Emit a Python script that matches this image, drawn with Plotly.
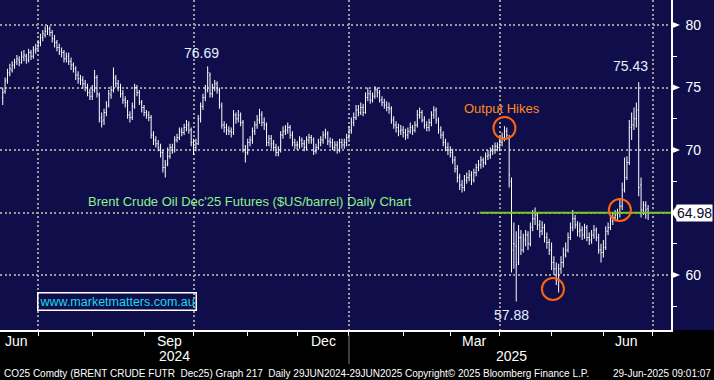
import pandas as pd
import plotly.graph_objects as go

# ---------------- data (one row = one trading week) -------------
opens = [
    74.2, 74.7, 75.6, 76.1, 76.4,
    76.8, 77.1, 77.2, 77.0, 77.4,
    77.5, 77.2, 77.8, 77.5, 78.0,
    78.1, 78.6, 79.0, 79.2, 79.5,
    79.7, 79.4, 78.9, 78.6, 78.2,
    77.9, 77.8, 77.3, 77.5, 77.1,
    76.8, 76.5, 76.0, 75.7, 75.6,
    75.3, 75.0, 74.6, 74.3, 74.8,
    75.8, 74.4, 72.6, 72.4, 73.0,
    73.6, 74.4, 74.8, 75.7, 75.3,
    75.0, 74.5, 74.0, 73.8, 72.8,
    72.6, 73.5, 75.0, 74.6, 73.8,
    73.4, 73.0, 72.8, 72.6, 71.2,
    70.8, 70.5, 70.2, 69.8, 68.6,
    68.9, 69.5, 70.2, 70.0, 70.8,
    71.0, 71.5, 71.4, 71.8, 72.0,
    71.6, 70.6, 70.2, 70.5, 72.5,
    73.5, 74.2, 74.8, 76.0, 74.5,
    75.0, 75.3, 74.8, 73.5, 72.0,
    71.8, 71.6, 71.5, 71.4, 72.8,
    72.5, 72.8, 72.2, 70.0, 69.8,
    70.6, 70.8, 71.5, 72.0, 72.4,
    72.8, 72.2, 72.0, 70.6, 70.9,
    70.5, 70.2, 69.8, 70.0, 71.2,
    71.5, 71.6, 71.8, 71.2, 70.6,
    70.4, 70.4, 70.8, 70.5, 70.2,
    70.8, 71.0, 70.8, 69.9, 70.2,
    70.6, 70.8, 71.2, 71.3, 70.7,
    70.6, 70.2, 70.4, 70.0, 70.6,
    70.4, 70.6, 71.0, 71.6, 72.2,
    72.6, 73.2, 73.0, 73.4, 73.0,
    74.2, 74.5, 74.0, 74.3, 74.8,
    74.6, 74.0, 73.8, 73.6, 73.4,
    73.3, 72.4, 72.0, 71.8, 71.5,
    71.6, 71.4, 71.2, 71.5, 71.8,
    71.6, 72.0, 72.8, 73.0, 72.4,
    72.0, 71.8, 72.2, 72.8, 73.2,
    72.4, 71.6, 71.2, 70.6, 70.2,
    70.0, 69.8, 69.2, 68.5, 67.8,
    67.2, 67.0, 67.6, 67.8, 68.0,
    67.6, 68.2, 68.6, 68.8, 69.2,
    69.0, 69.5, 69.6, 69.9, 70.0,
    70.3, 70.2, 70.6, 71.0, 71.5,
    71.0, 67.5, 62.5, 62.3, 61.0,
    63.0, 62.0, 62.8, 63.2, 62.5,
    63.8, 64.5, 64.8, 64.0, 63.5,
    63.8, 63.0, 62.6, 62.0, 61.0,
    60.5, 59.6, 60.5, 61.0, 61.6,
    62.0, 63.0, 63.8, 64.5, 64.0,
    63.5, 63.6, 63.2, 63.8, 63.0,
    62.8, 63.2, 63.6, 63.0, 62.0,
    61.8, 62.2, 63.5, 63.8, 64.3,
    64.6, 64.8, 65.0, 65.5, 66.8,
    67.8, 69.0, 71.8, 72.0, 72.5,
    73.2, 67.2, 65.2, 65.6, 65.3,
]
highs = [
    75.0, 75.8, 76.5, 76.9, 77.1,
    77.3, 77.6, 77.5, 77.9, 78.0,
    77.7, 78.1, 78.0, 78.3, 78.5,
    78.8, 79.3, 79.6, 79.9, 80.0,
    79.9, 79.6, 79.2, 78.8, 78.5,
    78.2, 78.0, 77.8, 77.8, 77.4,
    77.0, 76.7, 76.3, 76.0, 75.9,
    75.6, 75.3, 74.9, 75.2, 76.4,
    76.0, 74.6, 73.0, 73.3, 73.9,
    74.8, 75.1, 76.6, 76.0, 75.6,
    75.3, 74.8, 74.3, 74.0, 73.1,
    73.8, 75.3, 75.2, 74.8, 74.0,
    73.6, 73.2, 73.1, 72.8, 71.5,
    71.1, 70.8, 70.5, 70.0, 69.2,
    70.2, 70.5, 70.5, 71.1, 71.3,
    71.8, 71.8, 72.1, 72.4, 72.3,
    71.8, 70.9, 70.9, 72.8, 73.8,
    74.5, 75.2, 76.69, 76.2, 75.3,
    75.6, 75.5, 75.0, 73.8, 72.3,
    72.1, 71.9, 71.8, 73.2, 73.0,
    73.2, 73.0, 72.4, 70.4, 70.9,
    71.1, 71.8, 72.3, 72.8, 73.3,
    73.1, 72.6, 72.2, 71.2, 71.2,
    70.8, 70.5, 70.3, 71.5, 71.9,
    72.0, 72.2, 72.0, 71.5, 70.9,
    70.7, 71.1, 71.0, 70.8, 71.1,
    71.3, 71.2, 71.0, 70.5, 70.9,
    71.1, 71.5, 71.7, 71.5, 71.0,
    70.9, 70.7, 70.7, 70.9, 70.9,
    70.9, 71.3, 71.9, 72.6, 73.0,
    73.6, 73.6, 73.8, 73.7, 74.6,
    75.0, 74.8, 74.6, 75.1, 75.0,
    74.8, 74.3, 74.1, 73.9, 73.8,
    73.5, 72.7, 72.3, 72.1, 72.0,
    71.9, 71.7, 71.8, 72.2, 72.0,
    72.3, 73.2, 73.4, 73.2, 72.7,
    72.3, 72.5, 73.1, 73.5, 73.4,
    72.6, 71.9, 71.5, 70.9, 70.6,
    70.3, 70.1, 69.5, 68.8, 68.1,
    67.6, 68.0, 68.2, 68.4, 68.3,
    68.5, 68.9, 69.2, 69.5, 69.4,
    69.8, 70.0, 70.2, 70.4, 70.6,
    70.6, 70.9, 71.4, 71.9, 71.8,
    71.2, 67.8, 64.2, 63.5, 64.0,
    63.6, 63.3, 63.6, 63.5, 64.2,
    65.2, 65.4, 65.0, 64.4, 64.3,
    64.1, 63.4, 62.9, 62.6, 61.5,
    61.0, 60.9, 61.5, 62.2, 62.6,
    63.4, 64.2, 65.2, 64.8, 64.3,
    64.2, 63.9, 64.1, 64.0, 63.4,
    63.6, 64.0, 63.8, 63.3, 62.5,
    62.8, 63.9, 64.2, 64.8, 65.0,
    65.2, 65.3, 66.0, 67.4, 69.4,
    69.5, 72.4, 73.0, 73.4, 73.8,
    75.43, 67.8, 65.9, 65.9, 65.6,
]
lows = [
    73.6, 74.5, 75.3, 75.9, 76.2,
    76.5, 76.8, 76.7, 76.9, 77.1,
    76.9, 77.0, 77.2, 77.3, 77.7,
    77.9, 78.3, 78.7, 79.0, 79.2,
    79.1, 78.6, 78.2, 77.9, 77.6,
    77.4, 77.0, 77.0, 76.8, 76.4,
    76.2, 75.6, 75.3, 75.2, 74.9,
    74.7, 74.3, 74.0, 74.0, 74.6,
    74.2, 72.2, 71.8, 72.0, 72.7,
    73.4, 74.1, 74.6, 75.0, 74.7,
    74.2, 73.7, 73.4, 72.5, 72.2,
    72.4, 73.3, 74.3, 73.6, 73.0,
    72.7, 72.5, 72.3, 70.9, 70.4,
    70.2, 69.9, 69.4, 68.2, 67.8,
    68.7, 69.3, 69.7, 69.8, 70.6,
    70.8, 71.1, 71.2, 71.5, 71.3,
    70.3, 69.6, 69.9, 70.4, 72.2,
    73.2, 73.9, 74.6, 74.2, 74.2,
    74.7, 74.5, 73.3, 71.7, 71.4,
    71.2, 71.2, 71.0, 71.2, 72.1,
    72.2, 71.9, 69.8, 69.0, 69.6,
    70.3, 70.5, 71.2, 71.7, 72.1,
    71.9, 71.6, 70.3, 70.3, 70.1,
    69.9, 69.5, 69.5, 69.8, 70.9,
    71.2, 71.3, 70.9, 70.3, 70.1,
    70.0, 70.1, 70.2, 69.9, 70.0,
    70.5, 70.5, 69.6, 69.7, 70.0,
    70.3, 70.5, 70.9, 70.4, 70.2,
    70.0, 69.9, 69.7, 69.8, 70.1,
    70.1, 70.3, 70.8, 71.3, 71.9,
    72.4, 72.7, 72.8, 72.7, 72.9,
    73.9, 73.7, 73.8, 74.1, 74.2,
    73.8, 73.5, 73.3, 73.1, 72.9,
    72.1, 71.7, 71.4, 71.1, 71.2,
    71.0, 70.8, 70.9, 71.3, 71.2,
    71.4, 71.8, 72.5, 72.2, 71.7,
    71.5, 71.5, 71.9, 72.5, 72.1,
    71.3, 70.9, 70.3, 69.9, 69.6,
    69.4, 68.9, 68.2, 67.4, 66.8,
    66.6, 66.7, 67.3, 67.5, 67.2,
    67.4, 67.9, 68.3, 68.5, 68.6,
    68.8, 69.2, 69.3, 69.6, 69.7,
    69.9, 69.9, 70.3, 70.7, 70.9,
    67.0, 60.2, 60.5, 57.88, 60.8,
    61.6, 61.8, 62.3, 62.0, 62.3,
    63.5, 64.0, 63.6, 63.0, 63.2,
    62.6, 62.1, 61.6, 60.4, 60.0,
    59.2, 58.6, 60.1, 60.6, 61.4,
    61.8, 62.8, 63.5, 63.7, 63.1,
    63.0, 62.8, 62.9, 62.7, 62.4,
    62.5, 62.9, 62.7, 61.7, 61.0,
    61.4, 62.0, 63.2, 63.6, 64.0,
    64.3, 64.4, 64.6, 65.2, 66.6,
    67.6, 68.8, 70.8, 71.6, 71.8,
    66.3, 64.6, 64.8, 64.5, 64.4,
]
closes = [
    74.6, 75.5, 76.2, 76.5, 76.8,
    77.0, 77.3, 77.0, 77.5, 77.6,
    77.2, 77.8, 77.5, 78.0, 78.1,
    78.5, 79.0, 79.3, 79.5, 79.7,
    79.4, 78.9, 78.6, 78.2, 77.9,
    77.8, 77.3, 77.5, 77.1, 76.8,
    76.5, 76.0, 75.7, 75.6, 75.3,
    75.0, 74.6, 74.3, 74.8, 75.8,
    74.5, 72.5, 72.3, 73.0, 73.5,
    74.5, 74.8, 75.8, 75.3, 75.0,
    74.5, 74.0, 73.8, 72.8, 72.6,
    73.5, 75.0, 74.6, 73.8, 73.4,
    73.0, 72.8, 72.6, 71.2, 70.8,
    70.5, 70.2, 69.8, 68.6, 68.8,
    69.5, 70.2, 70.0, 70.8, 71.0,
    71.5, 71.4, 71.8, 72.0, 71.6,
    70.6, 70.2, 70.5, 72.5, 73.5,
    74.2, 74.8, 76.2, 74.5, 75.0,
    75.3, 74.8, 73.6, 72.0, 71.8,
    71.6, 71.5, 71.4, 72.8, 72.5,
    72.8, 72.2, 70.0, 69.8, 70.6,
    70.8, 71.5, 72.0, 72.4, 72.8,
    72.2, 72.0, 70.6, 70.9, 70.5,
    70.2, 69.8, 70.0, 71.2, 71.5,
    71.6, 71.8, 71.2, 70.6, 70.4,
    70.4, 70.8, 70.5, 70.2, 70.8,
    71.0, 70.8, 69.9, 70.2, 70.6,
    70.8, 71.2, 71.3, 70.7, 70.6,
    70.2, 70.4, 70.0, 70.6, 70.4,
    70.6, 71.0, 71.6, 72.2, 72.6,
    73.2, 73.0, 73.4, 73.0, 74.2,
    74.5, 74.0, 74.3, 74.8, 74.6,
    74.0, 73.8, 73.6, 73.4, 73.3,
    72.4, 72.0, 71.8, 71.5, 71.6,
    71.4, 71.2, 71.5, 71.8, 71.6,
    72.0, 72.8, 73.0, 72.4, 72.0,
    71.8, 72.2, 72.8, 73.2, 72.4,
    71.6, 71.2, 70.6, 70.2, 70.0,
    69.8, 69.2, 68.5, 67.8, 67.2,
    67.0, 67.6, 67.8, 68.0, 67.6,
    68.2, 68.6, 68.8, 69.2, 69.0,
    69.5, 69.6, 69.9, 70.0, 70.3,
    70.2, 70.6, 71.0, 71.5, 71.2,
    68.0, 62.0, 62.5, 60.8, 63.0,
    62.0, 62.8, 63.2, 62.5, 63.8,
    64.5, 64.8, 64.0, 63.5, 63.8,
    63.0, 62.6, 62.0, 61.0, 60.5,
    59.6, 60.5, 61.0, 61.6, 62.0,
    63.0, 63.8, 64.5, 64.0, 63.5,
    63.6, 63.2, 63.8, 63.0, 62.8,
    63.2, 63.6, 63.0, 62.0, 61.8,
    62.2, 63.5, 63.8, 64.3, 64.6,
    64.8, 65.0, 65.5, 66.8, 67.8,
    69.0, 71.8, 72.0, 72.5, 73.2,
    67.0, 65.2, 65.6, 65.2, 64.98,
]
dates = pd.bdate_range("2024-06-10", periods=len(closes))

y_ticks = [60, 65, 70, 75, 80]
y_tick_labels = ["60", "", "70", "75", "80"]   # 65 is hidden under the last-price tag
y_minor = [57.5, 62.5, 67.5, 72.5, 77.5]
quarter_starts = ["2024-07-01", "2024-10-01", "2025-01-01", "2025-04-01", "2025-07-01"]
month_starts = ["2024-07-01", "2024-08-01", "2024-09-02", "2024-10-01", "2024-11-01",
                "2024-12-02", "2025-01-01", "2025-02-03", "2025-03-03", "2025-04-01",
                "2025-05-01", "2025-06-02", "2025-07-01"]
month_labels = ["Jun", "Sep", "Dec", "Mar", "Jun"]
month_label_dates = ["2024-06-18", "2024-09-17", "2024-12-17", "2025-03-17", "2025-06-16"]
year_labels = ["2024", "2025"]
year_label_dates = ["2024-09-19", "2025-04-08"]
marked_highs = [76.69, 75.43]
marked_low = 57.88
last_price = 64.98
level_start = "2025-03-19 12:00"
x_range = ["2024-06-06 20:00", "2025-07-10 17:00"]
circles = [("2025-04-03", 71.76), ("2025-05-01 14:00", 58.88), ("2025-06-11", 65.2)]

NAVY = "#0f0e4b"
W, H = 714, 380
ML, MR, MT, MB = 0, 43, 0, 50
PW = W - ML - MR
PH = H - MT - MB
FONT = "Liberation Sans, Arial, sans-serif"


def px(xp):
    return (xp - ML) / PW


def py(yp):
    return (H - MB - yp) / PH


fig = go.Figure()
fig.add_trace(go.Ohlc(
    x=dates, open=opens, high=highs, low=lows, close=closes,
    increasing=dict(line=dict(color="white", width=1)),
    decreasing=dict(line=dict(color="white", width=1)),
    tickwidth=0.35, hoverinfo="skip", showlegend=False,
))

shapes = []
# navy background behind the right axis
shapes.append(dict(type="rect", xref="paper", yref="paper", x0=1, x1=W / PW, y0=0, y1=1,
                   fillcolor=NAVY, line=dict(width=0), layer="below"))
# triangles at labelled y ticks
dy = 3.6 * (82 - 55.6) / PH
for v, lab in zip(y_ticks, y_tick_labels):
    if lab:
        shapes.append(dict(type="path", xref="paper", yref="y",
                           path=f"M {px(671.5)},{v + dy} L {px(671.5)},{v - dy} L {px(680)},{v} Z",
                           fillcolor="white", line=dict(width=0)))
# horizontal level line
shapes.append(dict(type="line", xref="x", yref="y", x0=level_start, x1=x_range[1],
                   y0=last_price, y1=last_price, line=dict(color="#7cc51e", width=2)))
# orange circles
for cx, cy in circles:
    shapes.append(dict(type="circle", xref="x", yref="y", xsizemode="pixel", ysizemode="pixel",
                       xanchor=cx, yanchor=cy, x0=-11, x1=11, y0=-11, y1=11,
                       line=dict(color="#ff6410", width=2)))
# last price tag arrow
dy2 = 7.5 * (82 - 55.6) / PH
shapes.append(dict(type="path", xref="paper", yref="y",
                   path=f"M {px(671.5)},{last_price} L {px(677)},{last_price + dy2} L {px(677)},{last_price - dy2} Z",
                   fillcolor="white", line=dict(width=0)))
# year separator
shapes.append(dict(type="line", xref="x", yref="paper", x0=quarter_starts[2], x1=quarter_starts[2],
                   y0=py(335), y1=py(364), line=dict(color="#808080", width=1)))

ann = []
for lab, d in zip(month_labels, month_label_dates):
    ann.append(dict(x=d, y=py(341), xref="x", yref="paper", text=lab, showarrow=False,
                    font=dict(color="white", size=14, family=FONT), xanchor="center", yanchor="middle"))
for lab, d in zip(year_labels, year_label_dates):
    ann.append(dict(x=d, y=py(356), xref="x", yref="paper", text=lab, showarrow=False,
                    font=dict(color="white", size=14, family=FONT), xanchor="center", yanchor="middle"))

for val, xs, ys in zip(marked_highs, [-6, -8], [3, 6]):
    i = highs.index(val)
    ann.append(dict(x=dates[i], y=val, xref="x", yref="y", text=f"{val:.2f}",
                    showarrow=False, xshift=xs, yshift=ys, yanchor="bottom",
                    font=dict(color="#e6eeff", size=14, family=FONT)))
lo = lows.index(marked_low)
ann.append(dict(x=dates[lo], y=marked_low, xref="x", yref="y", text=f"{marked_low:.2f}",
                showarrow=False, xshift=-5, yshift=-3, yanchor="top",
                font=dict(color="#e6eeff", size=14, family=FONT)))
ann.append(dict(x=px(502), y=py(108.5), xref="paper", yref="paper", text="Output Hikes",
                showarrow=False, font=dict(color="#ff8a1e", size=13, family=FONT),
                xanchor="center", yanchor="middle"))
ann.append(dict(x=px(86), y=py(201.5), xref="paper", yref="paper",
                text="Brent Crude Oil Dec'25 Futures ($US/barrel) Daily Chart",
                showarrow=False, font=dict(color="#8ef08a", size=13, family=FONT),
                xanchor="left", yanchor="middle"))
ann.append(dict(x=px(117), y=py(301), xref="paper", yref="paper", text="www.marketmatters.com.au",
                showarrow=False, font=dict(color="#19d9ea", size=12.5, family=FONT),
                xanchor="center", yanchor="middle", bordercolor="white", borderwidth=1.5, borderpad=1))
ann.append(dict(x=px(676), y=last_price, xref="paper", yref="y", text=f"{last_price:.2f}",
                showarrow=False, font=dict(color="#0a0a2a", size=14, family=FONT),
                xanchor="left", yanchor="middle", bgcolor="white", borderpad=0))
foot = dict(color="white", size=10, family="Liberation Sans Narrow, Liberation Sans, Arial")
ann.append(dict(x=px(2), y=py(373.5), xref="paper", yref="paper",
                text="CO25 Comdty (BRENT CRUDE FUTR  Dec25) Graph 217  Daily 29JUN2024-29JUN2025",
                showarrow=False, font=foot, xanchor="left", yanchor="middle"))
ann.append(dict(x=px(403), y=py(373.5), xref="paper", yref="paper",
                text="Copyright\u00a9 2025 Bloomberg Finance L.P.",
                showarrow=False, font=foot, xanchor="left", yanchor="middle"))
ann.append(dict(x=px(713), y=py(373.5), xref="paper", yref="paper",
                text="29-Jun-2025 09:01:07",
                showarrow=False, font=foot, xanchor="right", yanchor="middle"))

grid = dict(showgrid=True, gridcolor="#9a9a9a", gridwidth=1.5, griddash="2px,2.5px")

fig.update_layout(
    width=W, height=H, autosize=False,
    margin=dict(l=ML, r=MR, t=MT, b=MB, pad=0),
    paper_bgcolor="black", plot_bgcolor=NAVY,
    shapes=shapes, annotations=ann, showlegend=False,
    font=dict(family=FONT, color="white"),
    xaxis=dict(
        type="date", range=x_range, rangeslider=dict(visible=False),
        rangebreaks=[dict(bounds=["sat", "mon"])],
        tickvals=quarter_starts, showticklabels=False,
        ticks="outside", ticklen=4, tickcolor="white", tickwidth=1,
        showline=True, linecolor="white", linewidth=1.5, zeroline=False,
        minor=dict(tickvals=month_starts, ticks="outside", ticklen=4, tickcolor="white",
                   showgrid=False),
        **grid,
    ),
    yaxis=dict(
        side="right", range=[55.6, 82], tickvals=y_ticks, ticktext=y_tick_labels,
        ticks="", ticklabelstandoff=10, tickfont=dict(color="white", size=14, family=FONT),
        showline=True, linecolor="white", linewidth=1.5, zeroline=False,
        minor=dict(tickvals=y_minor, ticks="outside", ticklen=4, tickcolor="white",
                   showgrid=False),
        **grid,
    ),
)

fig.write_html("out.html", config={"displayModeBar": False},
               post_script="document.body.style.margin='0';")
